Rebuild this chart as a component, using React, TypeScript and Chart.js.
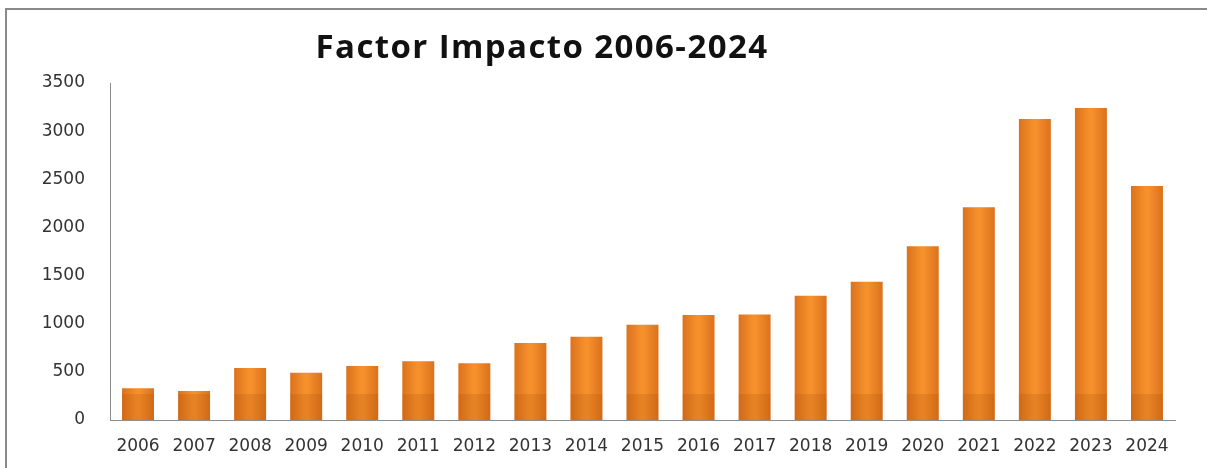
import React, { useEffect, useRef } from "react";
import { Chart, registerables } from "chart.js";

Chart.register(...registerables);

const titleText = "Factor Impacto 2006-2024";
const categories = ["2006","2007","2008","2009","2010","2011","2012","2013","2014","2015","2016","2017","2018","2019","2020","2021","2022","2023","2024"];
const impactValues = [330, 300, 540, 490, 560, 610, 590, 800, 865, 990, 1090, 1095, 1290, 1435, 1805, 2210, 3125, 3240, 2430];
const yTicks = [0, 500, 1000, 1500, 2000, 2500, 3000, 3500];

const W = 1207;
const H = 468;

export default function App() {
  const ref = useRef<HTMLCanvasElement | null>(null);

  useEffect(() => {
    const canvas = ref.current;
    if (!canvas) return;

    const titlePlugin = {
      id: "customTitle",
      afterDraw(chart: any) {
        const ctx = chart.ctx;
        ctx.save();
        ctx.font = "bold 33px 'Open Sans'";
        try {
          (ctx as any).letterSpacing = "1.4px";
        } catch (e) {}
        ctx.fillStyle = "#111111";
        ctx.textAlign = "center";
        ctx.textBaseline = "alphabetic";
        ctx.fillText(titleText, 542, 58);
        ctx.restore();
      },
    };

    const bandPlugin = {
      id: "bottomBand",
      afterDatasetsDraw(chart: any) {
        const ctx = chart.ctx;
        const meta = chart.getDatasetMeta(0);
        const y0 = chart.scales.y.getPixelForValue(0);
        const y1 = chart.scales.y.getPixelForValue(270);
        ctx.save();
        meta.data.forEach((bar: any) => {
          const w = bar.width;
          ctx.fillStyle = "rgba(160,70,0,0.18)";
          const top = Math.max(y1, bar.y);
          ctx.fillRect(bar.x - w / 2, top, w, y0 - top);
        });
        ctx.restore();
      },
    };

    const chart = new Chart(canvas, {
      type: "bar",
      data: {
        labels: categories,
        datasets: [
          {
            label: "Factor Impacto",
            data: impactValues,
            backgroundColor: (c: any) => {
              const ch = c.chart;
              const xs = ch.scales && ch.scales.x;
              if (!xs || c.dataIndex === undefined) return "#EE8529";
              const cx = xs.getPixelForValue(c.dataIndex);
              if (!isFinite(cx)) return "#EE8529";
              const w = 32;
              const g = ch.ctx.createLinearGradient(cx - w / 2, 0, cx + w / 2, 0);
              g.addColorStop(0, "#DC711C");
              g.addColorStop(0.45, "#F5902C");
              g.addColorStop(0.55, "#F5902C");
              g.addColorStop(1, "#DC711C");
              return g;
            },
            borderWidth: 0,
            categoryPercentage: 1,
            barPercentage: 0.57,
          },
        ],
      },
      options: {
        animation: false,
        responsive: false,
        maintainAspectRatio: false,
        layout: { padding: { top: 83, right: 32, left: 0, bottom: 0 } },
        plugins: {
          legend: { display: false },
          title: { display: false },
          tooltip: { enabled: false },
        },
        scales: {
          x: {
            grid: { display: false, drawTicks: false },
            border: { display: true, color: "#8c8c8c", width: 1 },
            ticks: {
              color: "#333333",
              font: { family: "DejaVu Sans", size: 17 },
              padding: 16,
              maxRotation: 0,
              autoSkip: false,
            },
            afterFit: (s: any) => {
              s.height = 48;
            },
          },
          y: {
            min: 0,
            max: 3500,
            afterBuildTicks: (s: any) => {
              s.ticks = yTicks.map((v) => ({ value: v }));
            },
            grid: { display: false, drawTicks: false },
            border: { display: true, color: "#8c8c8c", width: 1 },
            ticks: {
              color: "#333333",
              font: { family: "DejaVu Sans", size: 17 },
              padding: 25,
              callback: (v: any) => String(v),
            },
            afterFit: (s: any) => {
              s.width = 110;
            },
          },
        },
      },
      plugins: [bandPlugin, titlePlugin],
    });

    return () => chart.destroy();
  }, []);

  return (
    <div style={{ position: "fixed", left: 0, top: 0, width: W, height: H, background: "#ffffff", overflow: "hidden" }}>
      <div
        style={{
          position: "absolute",
          left: 5,
          top: 8,
          width: W,
          height: H,
          borderTop: "2px solid #8a8a8a",
          borderLeft: "2px solid #8a8a8a",
        }}
      />
      <canvas ref={ref} width={W} height={H} style={{ position: "absolute", left: 0, top: 0, width: W, height: H }} />
    </div>
  );
}
